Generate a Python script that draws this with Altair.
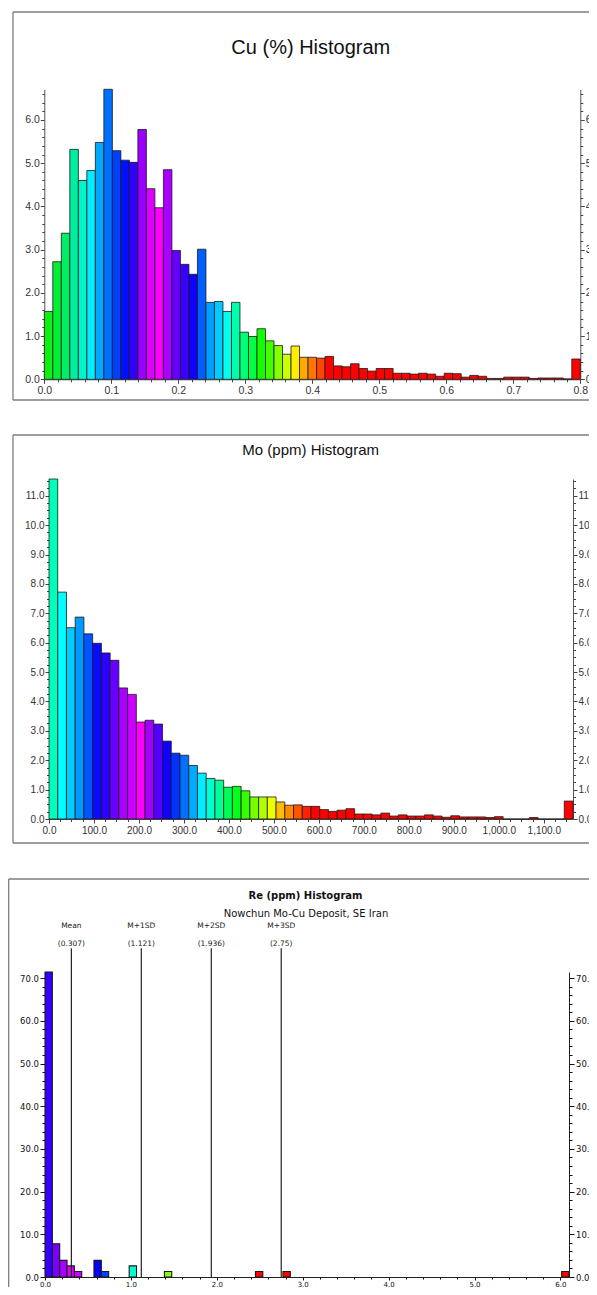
import altair as alt
import numpy as np
import pandas as pd

# ---------------- data ----------------
# Cu (%) histogram: 63 bins over 0 .. 0.8, percent of samples
cu_pct = [1.57, 2.72, 3.38, 5.32, 4.60, 4.83, 5.48, 6.71, 5.29, 5.07, 5.02, 5.78, 4.41, 3.97, 4.85, 2.98,
          2.66, 2.43, 3.01, 1.78, 1.80, 1.57, 1.78, 1.09, 0.99, 1.17, 0.89, 0.78, 0.58, 0.77, 0.51, 0.51,
          0.49, 0.53, 0.31, 0.29, 0.36, 0.25, 0.19, 0.25, 0.25, 0.14, 0.14, 0.12, 0.14, 0.12, 0.07, 0.14,
          0.13, 0.05, 0.09, 0.07, 0.02, 0.02, 0.05, 0.05, 0.05, 0.02, 0.03, 0.03, 0.03, 0.01, 0.47]
cu_palette = ["#11ee11", "#00ee33", "#00ee66", "#00eea0", "#00f5cc", "#00eeff", "#00a8ff", "#0070ff",
              "#0040ff", "#0010ff", "#3300ff", "#9900ff", "#dd00ff", "#ff00ff", "#aa00ff", "#6600ff",
              "#3a00ff", "#1000ff", "#0060ff", "#00a0ff", "#00ccff", "#00ffee", "#00ffaa", "#00ff77",
              "#00ff44", "#11ff00", "#44ff00", "#88ff00", "#ccff00", "#ffee00", "#ffaa00", "#ff7700",
              "#ff4400"] + ["#ff0000"] * 30
cu_x_max = 0.8
cu_y_max = 6.71
cu_x_ticks = [0.0, 0.1, 0.2, 0.3, 0.4, 0.5, 0.6, 0.7, 0.8]
cu_y_ticks = [0.0, 1.0, 2.0, 3.0, 4.0, 5.0, 6.0]

# Mo (ppm) histogram: 60 bins over 0 .. 1165, percent of samples
mo_pct = [11.57, 7.72, 6.51, 6.87, 6.30, 5.98, 5.65, 5.40, 4.46, 4.24,
          3.30, 3.36, 3.23, 2.65, 2.24, 2.17, 1.82, 1.56, 1.38, 1.32,
          1.08, 1.11, 0.96, 0.75, 0.75, 0.75, 0.58, 0.47, 0.48, 0.43,
          0.43, 0.32, 0.26, 0.30, 0.35, 0.17, 0.17, 0.14, 0.20, 0.10,
          0.14, 0.10, 0.10, 0.14, 0.10, 0.06, 0.11, 0.07, 0.07, 0.07,
          0.05, 0.08, 0.0, 0.0, 0.0, 0.05, 0.0, 0.0, 0.0, 0.61]
mo_palette = ["#00ffbb", "#00ffff", "#00ccff", "#0099ff", "#0055ff", "#0a0aff", "#2a00ff", "#6600ff",
              "#aa00ff", "#cc00ff", "#ff00ff", "#a000ff", "#5500ff", "#1100ff", "#0033ff", "#0070ff",
              "#00aaff", "#00eeff", "#00ffcc", "#00ff99", "#00ff55", "#00ff1a", "#33ff00", "#77ff00",
              "#b0ff00", "#eeff00", "#ffbb00", "#ff8800", "#ff5500", "#ff2200"] + ["#ff0000"] * 30
mo_x_max = 1165.0
mo_y_max = 11.57
mo_x_ticks = [0.0, 100.0, 200.0, 300.0, 400.0, 500.0, 600.0, 700.0, 800.0, 900.0, 1000.0, 1100.0]
mo_y_ticks = [0.0, 1.0, 2.0, 3.0, 4.0, 5.0, 6.0, 7.0, 8.0, 9.0, 10.0, 11.0]

# Re (ppm) histogram: occupied bins only, percent of 77 samples
re_bin_start = [0.0, 0.0855, 0.171, 0.2565, 0.342, 0.57, 0.6555, 0.98, 1.39, 2.45, 2.77, 6.0145]
re_pct = [71.43, 7.79, 3.90, 2.60, 1.30, 3.90, 1.30, 2.60, 1.30, 1.30, 1.30, 1.30]
re_palette = ["#3300ff", "#7700ff", "#aa00ff", "#dd00ff", "#cc00ff", "#0000ff", "#0044ff", "#00ffcc",
              "#88ff00", "#ff0000", "#ff0000", "#ff0000"]
re_bin_width = 0.0855
re_x_max = 6.1
re_y_max = 71.43
re_x_ticks = [0.0, 1.0, 2.0, 3.0, 4.0, 5.0, 6.0]
re_y_ticks = [0.0, 10.0, 20.0, 30.0, 40.0, 50.0, 60.0, 70.0]

stat_names = ["Mean", "M+1SD", "M+2SD", "M+3SD"]
stat_values = [0.307, 1.121, 1.936, 2.75]
stat_text = ["(0.307)", "(1.121)", "(1.936)", "(2.75)"]

# ---------------- tables ----------------
def bins_table(pct, x_max):
    n = len(pct)
    w = x_max / n
    return pd.DataFrame({"idx": list(range(n)),
                         "x0": [i * w for i in range(n)],
                         "x1": [(i + 1) * w for i in range(n)],
                         "pct": pct})

cu_df = bins_table(cu_pct, cu_x_max)
mo_df = bins_table(mo_pct, mo_x_max)
re_df = pd.DataFrame({"idx": list(range(len(re_pct))),
                      "x0": re_bin_start,
                      "x1": [s + re_bin_width for s in re_bin_start],
                      "pct": re_pct})
stats_df = pd.DataFrame({"name": stat_names, "value": stat_values, "label": stat_text})
ONE = pd.DataFrame({"k": [0]})

# whole drawing surface; it sits at page (8, 8)
TW, TH = 581, 1279


def minor(lo, hi, step, majors):
    vals = np.round(np.arange(lo, hi + step / 2, step), 6)
    return [float(v) for v in vals if all(abs(v - m) > 1e-6 for m in majors)]


def frame(left, top, bottom, right, color="#7d7d7d", sw=1.3):
    b = alt.Chart(ONE)
    return [
        b.mark_rule(color=color, strokeWidth=sw).encode(x=alt.value(left), y=alt.value(top), y2=alt.value(bottom)),
        b.mark_rule(color=color, strokeWidth=sw).encode(x=alt.value(left), x2=alt.value(right), y=alt.value(top)),
        b.mark_rule(color=color, strokeWidth=sw).encode(x=alt.value(left), x2=alt.value(right), y=alt.value(bottom)),
    ]


def text_at(txt, x, y, font, size, weight="normal", color="#111"):
    return alt.Chart(ONE).mark_text(font=font, fontSize=size, fontWeight=weight, color=color,
                                    align="center", baseline="middle").encode(
        x=alt.value(x), y=alt.value(y), text=alt.value(txt))


def hist_layers(df, xr, yr, x_max, y_max, xmaj, xmin, ymaj, ymin, xfmt, yfmt, font, fsize,
                label_color, tick_color, domain_color, palette, big=4, small=2.5, lpad=1.5, xpad=2,
                bar_stroke=0.8, xbig=None, xsmall=None, xfsize=None):
    xbig = big if xbig is None else xbig
    xsmall = small if xsmall is None else xsmall
    xfsize = fsize if xfsize is None else xfsize
    xs = alt.Scale(domain=[0, x_max], range=xr, nice=False, zero=False)
    ys = alt.Scale(domain=[0, y_max], range=yr, nice=False, zero=False)
    off_left = -xr[0]
    off_right = xr[1] - TW
    off_bottom = yr[0] - TH
    common = dict(grid=False, title=None, labelFont=font, labelColor=label_color,
                  tickColor=tick_color, domainColor=domain_color, labelFlush=False,
                  labelOverlap=False, labelBound=False, tickWidth=1, domainWidth=1)
    mcommon = dict(grid=False, title=None, labels=False, domain=False, tickColor=tick_color, tickWidth=1)
    bars = alt.Chart(df).mark_rect(stroke="#1a1a1a", strokeWidth=bar_stroke).encode(
        x=alt.X("x0:Q", scale=xs, axis=alt.Axis(orient="bottom", offset=off_bottom, values=xmaj,
                                                 format=xfmt, tickSize=xbig, labelPadding=xpad,
                                                 labelFontSize=xfsize, **common)),
        x2="x1:Q",
        y=alt.Y("pct:Q", scale=ys, axis=alt.Axis(orient="left", offset=off_left, values=ymaj,
                                                  format=yfmt, tickSize=big, labelPadding=lpad,
                                                  labelFontSize=fsize, **common)),
        y2=alt.datum(0),
        color=alt.Color("idx:O", scale=alt.Scale(domain=list(range(len(df))), range=palette),
                        legend=None),
    )
    minor_left = alt.Chart(df).mark_point(opacity=0).encode(
        x=alt.X("x0:Q", scale=xs, axis=alt.Axis(orient="bottom", offset=off_bottom, values=xmin,
                                                 tickSize=xsmall, **mcommon)),
        y=alt.Y("pct:Q", scale=ys, axis=alt.Axis(orient="left", offset=off_left, values=ymin,
                                                  tickSize=small, **mcommon)),
    )
    right_major = alt.Chart(df).mark_point(opacity=0).encode(
        x=alt.X("x0:Q", scale=xs, axis=None),
        y=alt.Y("pct:Q", scale=ys, axis=alt.Axis(orient="right", offset=off_right, values=ymaj,
                                                  format=yfmt, tickSize=big, labelPadding=lpad,
                                                  labelFontSize=fsize, **common)),
    )
    right_minor = alt.Chart(df).mark_point(opacity=0).encode(
        x=alt.X("x0:Q", scale=xs, axis=None),
        y=alt.Y("pct:Q", scale=ys, axis=alt.Axis(orient="right", offset=off_right, values=ymin,
                                                  tickSize=small, **mcommon)),
    )
    return [bars, minor_left, right_major, right_minor], xs


# ---------------- panel 1: Cu ----------------
cu_layers, _ = hist_layers(
    cu_df, [36.3, 572.3], [371.3, 81.3], cu_x_max, cu_y_max,
    cu_x_ticks, minor(0, cu_x_max, 0.02, cu_x_ticks),
    cu_y_ticks, minor(0, 6.6, 0.2, cu_y_ticks),
    ".1f", ".1f", "Liberation Sans", 10.5, "#333333", "#444444", "#555555", cu_palette, lpad=1)
p1 = frame(5, 4, 392, TW) + cu_layers + [
    text_at("Cu (%) Histogram", 302.8, 40, "Liberation Sans", 20, color="#111111")]

# ---------------- panel 2: Mo ----------------
mo_layers, _ = hist_layers(
    mo_df, [41, 565], [811, 471], mo_x_max, mo_y_max,
    mo_x_ticks, minor(0, 1150, 25, mo_x_ticks),
    mo_y_ticks, minor(0, 11.5, 0.25, mo_y_ticks),
    ",.1f", ".1f", "Liberation Sans", 10, "#333333", "#444444", "#555555", mo_palette, lpad=1)
p2 = frame(5, 427, 835, TW) + mo_layers + [
    text_at("Mo (ppm) Histogram", 302.7, 442, "Liberation Sans", 15, color="#111111")]

# ---------------- panel 3: Re ----------------
RE_BOTTOM = 1269
re_layers, re_xs = hist_layers(
    re_df, [37, 561], [RE_BOTTOM, 964], re_x_max, re_y_max,
    re_x_ticks, minor(0, 6.0, 0.2, re_x_ticks),
    re_y_ticks, minor(0, 70, 2, re_y_ticks),
    ".1f", ".1f", "DejaVu Sans", 8.5, "#111111", "#111111", "#222222", re_palette,
    big=5, small=3, bar_stroke=1.1, xbig=3, xsmall=2, xpad=0, xfsize=7)
stat_rules = alt.Chart(stats_df).mark_rule(color="#222222", strokeWidth=1.2).encode(
    x=alt.X("value:Q", scale=re_xs, axis=None), y=alt.value(940.3), y2=alt.value(RE_BOTTOM))
stat_name_txt = alt.Chart(stats_df).mark_text(font="DejaVu Sans", fontSize=7.5, color="#222222",
                                              baseline="middle").encode(
    x=alt.X("value:Q", scale=re_xs, axis=None), y=alt.value(918), text="name:N")
stat_val_txt = alt.Chart(stats_df).mark_text(font="DejaVu Sans", fontSize=7.5, color="#222222",
                                             baseline="middle").encode(
    x=alt.X("value:Q", scale=re_xs, axis=None), y=alt.value(936.3), text="label:N")
p3 = frame(0.7, 871, 1300, TW) + re_layers + [stat_rules, stat_name_txt, stat_val_txt] + [
    text_at("Re (ppm) Histogram", 297.5, 888, "DejaVu Sans", 10, weight="bold", color="#111111"),
    text_at("Nowchun Mo-Cu Deposit, SE Iran", 298, 906.3, "DejaVu Sans", 10, color="#111111")]

chart = alt.layer(*(p1 + p2 + p3)).resolve_scale(
    x="independent", y="independent", color="independent"
).resolve_axis(
    x="independent", y="independent"
).properties(
    width=TW, height=TH, padding=0, autosize=alt.AutoSizeParams(type="none")
).configure_view(stroke=None)

chart.save("out.html", embed_options={"renderer": "svg", "actions": False})
